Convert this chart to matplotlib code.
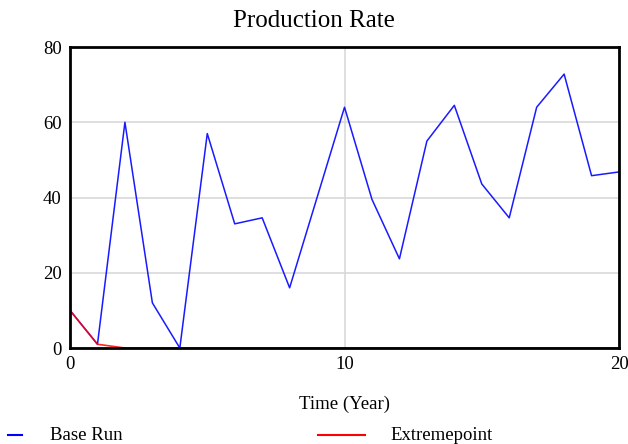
import matplotlib.pyplot as plt
from matplotlib.lines import Line2D

plt.rcParams['font.family'] = ['Liberation Serif', 'DejaVu Serif']

years = list(range(21))
base_run = [10, 1, 60, 12, 0, 57, 33, 34.6, 16, 40, 64, 39.5, 23.7, 55, 64.5,
            43.6, 34.6, 64, 72.8, 45.8, 46.8]
extremepoint = [10, 1, 0, 0, 0, 0, 0, 0, 0, 0, 0, 0, 0, 0, 0, 0, 0, 0, 0, 0, 0]

fig = plt.figure(figsize=(6.28, 4.44), dpi=100)
ax = fig.add_axes([0.1115, 0.2162, 0.8742, 0.6779])

ax.plot(years, base_run, color="#1a1aff", linewidth=1.1)
ax.plot(years, extremepoint, color="#ff0000", linewidth=1.2, alpha=0.85)

ax.set_xlim(0, 20)
ax.set_ylim(0, 80)
ax.set_xticks([0, 10, 20])
ax.set_yticks([0, 20, 40, 60, 80])
ax.tick_params(length=0, labelsize=13.5, pad=6)
ax.grid(True, color="#d9d9d9", linewidth=1.2)
ax.set_axisbelow(True)
for s in ax.spines.values():
    s.set_linewidth(2)
    s.set_color("black")

fig.text(0.5, 1 - 21 / 444, "Production Rate", fontsize=18, ha="center", va="center")
ax.set_xlabel("Time (Year)", fontsize=13.5, labelpad=16)

# legend row at the bottom
y_leg = 1 - 435 / 444
fig.add_artist(Line2D([8 / 628, 22 / 628], [y_leg, y_leg], color="#0000ff", linewidth=1.5))
fig.text(50 / 628, y_leg, "Base Run", fontsize=13.5, va="center")
fig.add_artist(Line2D([318 / 628, 365 / 628], [y_leg, y_leg], color="#ff0000", linewidth=1.5))
fig.text(390 / 628, y_leg, "Extremepoint", fontsize=13.5, va="center")

fig.savefig("out.png", dpi=100)
